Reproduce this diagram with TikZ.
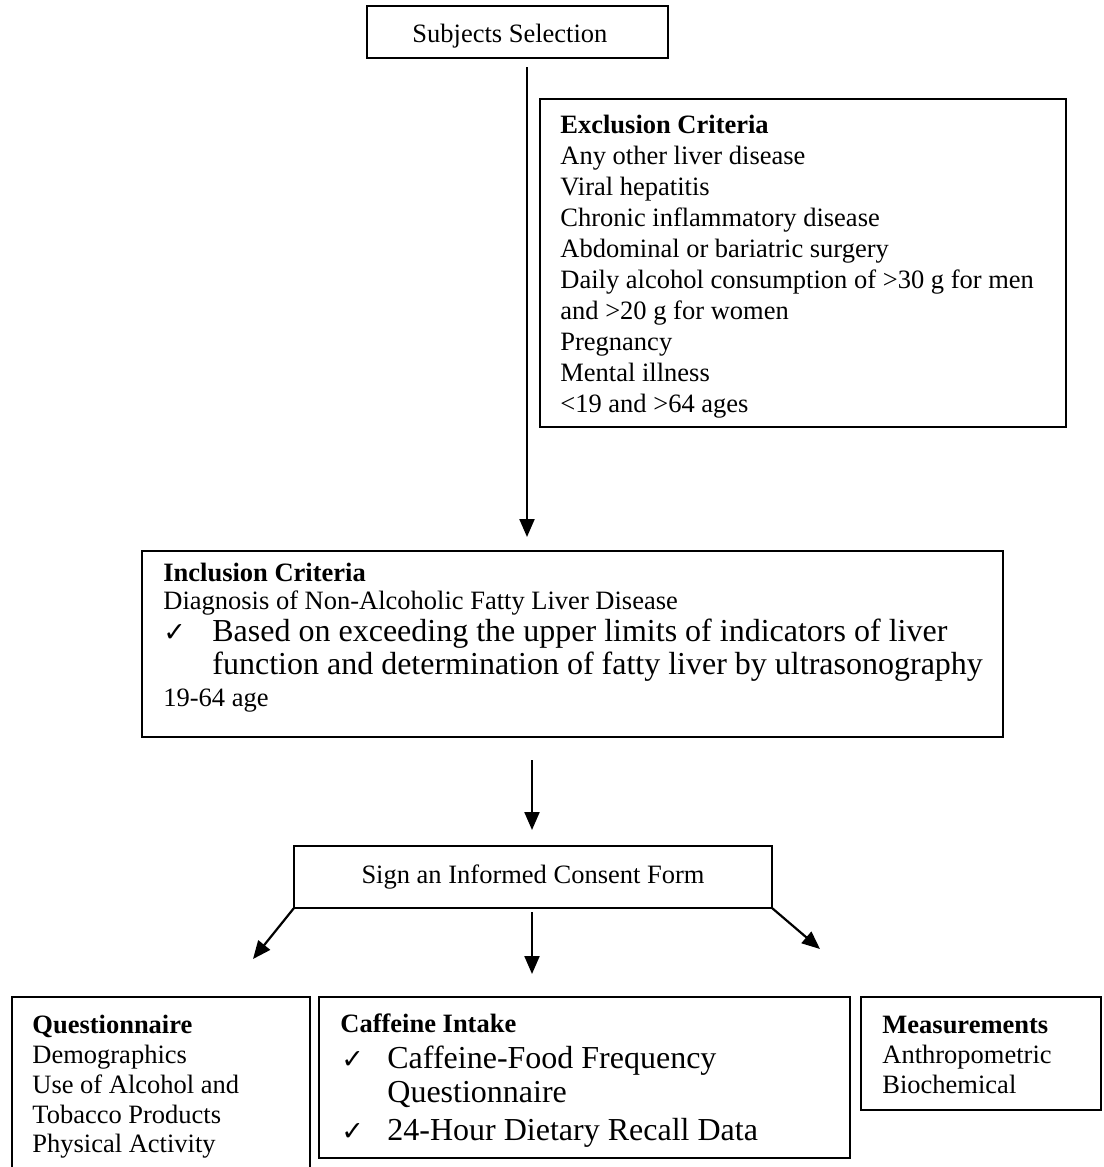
\documentclass[tikz,border=0pt]{standalone}
\usepackage{fontspec}
\setmainfont{Liberation Serif}
\newfontfamily\symfont{DejaVu Sans}
\usetikzlibrary{arrows.meta,fit}
\begin{document}
\begin{tikzpicture}[x=0.5pt,y=-0.5pt,
  box/.style={draw, line width=1.1pt, inner sep=0pt, outer sep=0pt},
  txt/.style={anchor=base west, inner sep=0pt, font=\fontsize{13.25}{15}\selectfont},
  hdr/.style={anchor=base west, inner sep=0pt, font=\fontsize{13.25}{15}\selectfont\bfseries},
  big/.style={anchor=base west, inner sep=0pt, font=\fontsize{16}{19}\selectfont},
  chk/.style={anchor=base west, inner sep=0pt, font=\fontsize{13.5}{15}\symfont},
  arr/.style={line width=1.1pt, -{Triangle[length=9pt,width=7.5pt]}}
]
\useasboundingbox (0,0) rectangle (1103,1167);

% boxes
\node[box, fit={(367,6) (668,58)}] (sel) {};
\node[box, fit={(540,99) (1066,427)}] (excl) {};
\node[box, fit={(142,551) (1003,737)}] (incl) {};
\node[box, fit={(294,846) (772,908)}] (sign) {};
\node[box, fit={(12,997) (310,1185)}] (quest) {};
\node[box, fit={(319,997) (850,1158)}] (caff) {};
\node[box, fit={(861,997) (1101,1110)}] (meas) {};

% top
\node[txt] (selT) at (412,42) {Subjects Selection};

% exclusion
\node[hdr] (exH) at (560,133) {Exclusion Criteria};
\node[txt] (ex1) at (560,164) {Any other liver disease};
\node[txt] (ex2) at (560,195) {Viral hepatitis};
\node[txt] (ex3) at (560,226) {Chronic inflammatory disease};
\node[txt] (ex4) at (560,257) {Abdominal or bariatric surgery};
\node[txt] (ex5) at (560,288) {Daily alcohol consumption of >30 g for men};
\node[txt] (ex6) at (560,319) {and >20 g for women};
\node[txt] (ex7) at (560,350) {Pregnancy};
\node[txt] (ex8) at (560,381) {Mental illness};
\node[txt] (ex9) at (560,412) {<19 and >64 ages};

% inclusion
\node[hdr] (inH) at (163,581) {Inclusion Criteria};
\node[txt] (in1) at (163,609) {Diagnosis of Non-Alcoholic Fatty Liver Disease};
\node[chk] (inC) at (163,641) {✓};
\node[big] (in2) at (212,641) {Based on exceeding the upper limits of indicators of liver};
\node[big] (in3) at (212,674) {function and determination of fatty liver by ultrasonography};
\node[txt] (in4) at (163,706) {19-64 age};

% consent
\node[anchor=base, inner sep=0pt, font=\fontsize{13.25}{15}\selectfont] (signT) at (533,883) {Sign an Informed Consent Form};

% questionnaire
\node[hdr] (qH) at (32,1033) {Questionnaire};
\node[txt] (q1) at (32,1063) {Demographics};
\node[txt] (q2) at (32,1093) {Use of Alcohol and};
\node[txt] (q3) at (32,1123) {Tobacco Products};
\node[txt] (q4) at (32,1152) {Physical Activity};

% caffeine
\node[hdr] (cH) at (340,1032) {Caffeine Intake};
\node[chk] (cC1) at (341,1068) {✓};
\node[big] (c1) at (387,1068) {Caffeine-Food Frequency};
\node[big] (c2) at (387,1102) {Questionnaire};
\node[chk] (cC2) at (341,1140) {✓};
\node[big] (c3) at (387,1140) {24-Hour Dietary Recall Data};

% measurements
\node[hdr] (mH) at (882,1033) {Measurements};
\node[txt] (m1) at (882,1063) {Anthropometric};
\node[txt] (m2) at (882,1093) {Biochemical};

% connectors
\draw[arr] ([shift={(9.5,9)}]sel.south) -- ([shift={(-45.5,-14)}]incl.north);
\draw[arr] ([shift={(-40.5,23)}]incl.south) -- ([shift={(-1,-16)}]sign.north);
\draw[arr] (sign.south west) -- ([shift={(92,-38)}]quest.north);
\draw[arr] ([shift={(-1,4)}]sign.south) -- ([shift={(-52.5,-23)}]caff.north);
\draw[arr] (sign.south east) -- ([shift={(-161,-48)}]meas.north);
\end{tikzpicture}
\end{document}
